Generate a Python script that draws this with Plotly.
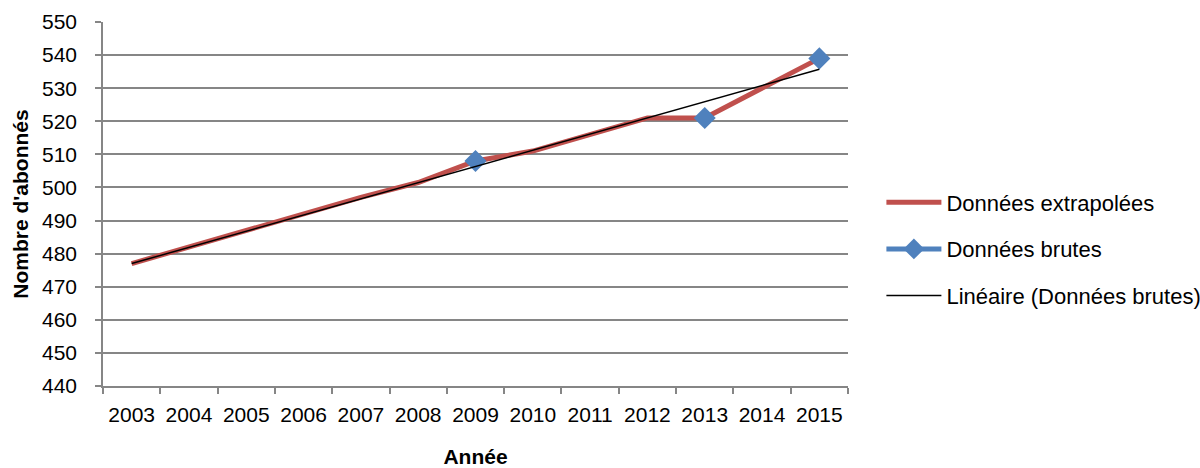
import numpy as np
import plotly.graph_objects as go

# Years on the category axis
years = ["2003", "2004", "2005", "2006", "2007", "2008", "2009",
         "2010", "2011", "2012", "2013", "2014", "2015"]

# Extrapolated subscriber counts (complete series)
extrapolated = [477, 482, 487, 492, 497, 501.5, 508, 511, 516, 521, 521, 530, 539]

# Raw measured subscriber counts (only three surveyed years)
raw = [None, None, None, None, None, None, 508, None, None, None, 521, None, 539]

# Linear trend fitted on the raw measurements (category index as x)
idx = np.arange(1, len(years) + 1)
mask = np.array([v is not None for v in raw])
raw_vals = np.array([v for v in raw if v is not None], dtype=float)
slope, intercept = np.polyfit(idx[mask], raw_vals, 1)
trend = slope * idx + intercept

FONT = "Liberation Sans, Arial, sans-serif"
FS = 21
GRID = "#868686"

fig = go.Figure()
fig.add_trace(go.Scatter(
    x=years, y=extrapolated, mode="lines", name="Données extrapolées",
    line=dict(color="#C0504D", width=5), legendgroup="a",
))
fig.add_trace(go.Scatter(
    x=years, y=raw, mode="lines+markers", name="Données brutes",
    line=dict(color="#4F81BD", width=5), connectgaps=False,
    marker=dict(symbol="diamond", size=17, color="#4F81BD"), legendgroup="b",
))
fig.add_trace(go.Scatter(
    x=years, y=trend, mode="lines", name="Linéaire (Données brutes)",
    line=dict(color="black", width=1.5), legendgroup="c",
))

fig.update_layout(
    width=1200, height=468,
    margin=dict(l=103, r=352, t=22, b=82, autoexpand=False),
    paper_bgcolor="white", plot_bgcolor="white",
    font=dict(family=FONT, size=FS, color="black"),
    showlegend=True,
    legend=dict(xref="container", yref="container", x=0.7345, y=0.468,
                xanchor="left", yanchor="middle",
                tracegroupgap=15, itemwidth=55, font=dict(size=22)),
    xaxis=dict(
        type="category", range=[-0.5, len(years) - 0.5],
        tickson="boundaries", ticks="outside", ticklen=6,
        tickcolor=GRID, tickwidth=1.5, showline=True, linecolor=GRID, linewidth=1.5,
        showgrid=False, tickfont=dict(size=FS), tickangle=0, automargin=False,
        ticklabelstandoff=9,
        title=dict(text="<b>Année</b>", font=dict(size=FS), standoff=28),
    ),
    yaxis=dict(
        range=[440, 550], dtick=10, ticks="outside", ticklen=6,
        tickcolor=GRID, tickwidth=1.5, showline=True, linecolor=GRID, linewidth=1.5,
        showgrid=True, gridcolor=GRID, gridwidth=1.5, zeroline=False,
        tickfont=dict(size=FS), ticklabelstandoff=14, automargin=False,
        title=dict(text="<b>Nombre d'abonnés</b>", font=dict(size=FS), standoff=8),
    ),
)

fig.write_html("out.html")
